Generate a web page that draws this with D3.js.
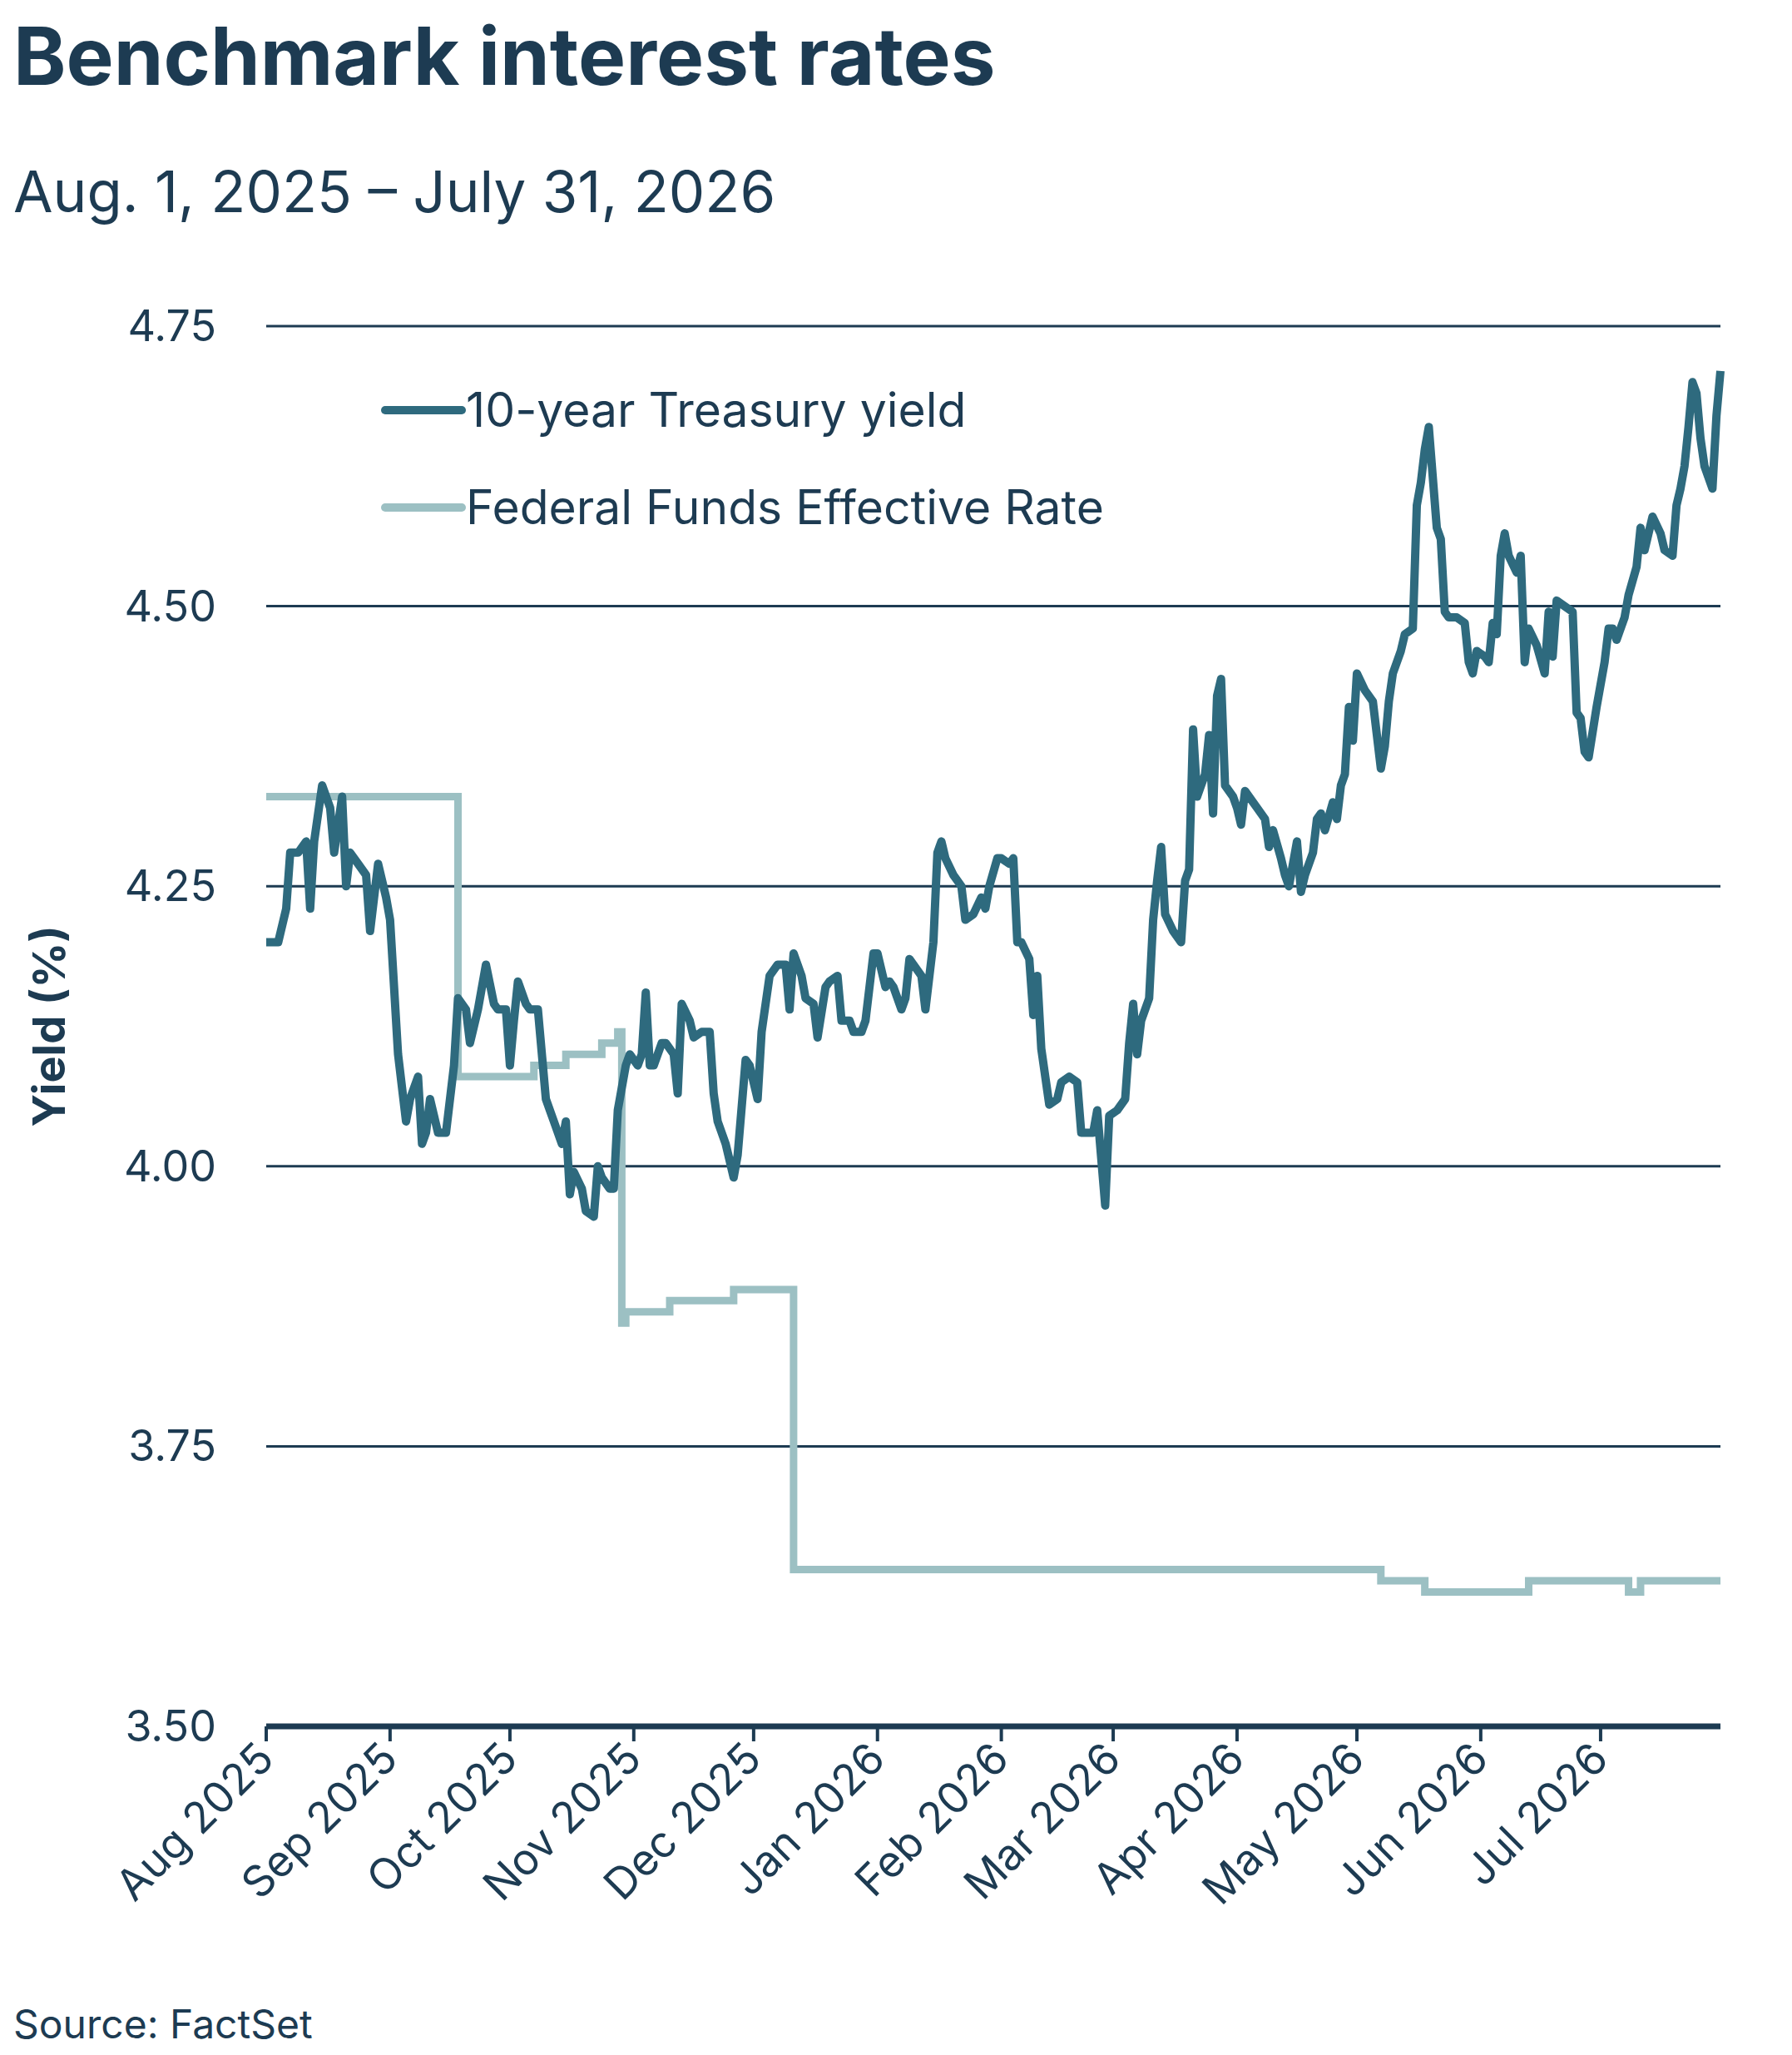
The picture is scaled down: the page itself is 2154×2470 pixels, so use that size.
<!DOCTYPE html>
<html><head><meta charset="utf-8">
<script src="https://cdn.jsdelivr.net/npm/d3@7"></script>
<style>body{margin:0;background:#fff}</style></head>
<body><svg id="c" width="2154" height="2470"></svg>
<script>
const treasuryDates = ["2025-08-01","2025-08-04","2025-08-06","2025-08-07","2025-08-09","2025-08-11","2025-08-12","2025-08-13","2025-08-15","2025-08-17","2025-08-18","2025-08-20","2025-08-21","2025-08-22","2025-08-24","2025-08-26","2025-08-27","2025-08-29","2025-08-31",
"2025-09-01","2025-09-03","2025-09-04","2025-09-05","2025-09-06","2025-09-08","2025-09-09","2025-09-10","2025-09-11","2025-09-13","2025-09-15","2025-09-17","2025-09-18","2025-09-20","2025-09-21","2025-09-23","2025-09-25","2025-09-27","2025-09-28","2025-09-30",
"2025-10-01","2025-10-02","2025-10-03","2025-10-05","2025-10-06","2025-10-07","2025-10-08","2025-10-10","2025-10-11","2025-10-12","2025-10-14","2025-10-15","2025-10-16","2025-10-17","2025-10-19","2025-10-20","2025-10-22","2025-10-23","2025-10-24","2025-10-26","2025-10-27","2025-10-28","2025-10-30","2025-10-31",
"2025-11-02","2025-11-03","2025-11-04","2025-11-05","2025-11-06","2025-11-08","2025-11-09","2025-11-11","2025-11-12","2025-11-13","2025-11-15","2025-11-16","2025-11-18","2025-11-20","2025-11-21","2025-11-22","2025-11-24","2025-11-26","2025-11-27","2025-11-29","2025-11-30",
"2025-12-02","2025-12-03","2025-12-05","2025-12-07","2025-12-09","2025-12-10","2025-12-11","2025-12-13","2025-12-14","2025-12-16","2025-12-17","2025-12-19","2025-12-20","2025-12-22","2025-12-23","2025-12-25","2025-12-26","2025-12-28","2025-12-29","2025-12-31",
"2026-01-01","2026-01-03","2026-01-04","2026-01-05","2026-01-07","2026-01-08","2026-01-09","2026-01-10","2026-01-12","2026-01-13","2026-01-15","2026-01-16","2026-01-17","2026-01-18","2026-01-20","2026-01-22","2026-01-23","2026-01-25","2026-01-27","2026-01-28","2026-01-29","2026-01-31",
"2026-02-01","2026-02-03","2026-02-04","2026-02-05","2026-02-06","2026-02-08","2026-02-09","2026-02-10","2026-02-11","2026-02-13","2026-02-15","2026-02-16","2026-02-18","2026-02-20","2026-02-21","2026-02-22","2026-02-24","2026-02-25","2026-02-27","2026-02-28",
"2026-03-02","2026-03-04","2026-03-05","2026-03-06","2026-03-07","2026-03-08","2026-03-10","2026-03-11","2026-03-12","2026-03-13","2026-03-14","2026-03-16","2026-03-18","2026-03-19","2026-03-20","2026-03-21","2026-03-22","2026-03-24","2026-03-25","2026-03-26","2026-03-27","2026-03-28","2026-03-29","2026-03-31",
"2026-04-01","2026-04-02","2026-04-03","2026-04-04","2026-04-06","2026-04-08","2026-04-09","2026-04-10","2026-04-12","2026-04-13","2026-04-14","2026-04-16","2026-04-17","2026-04-18","2026-04-20","2026-04-21","2026-04-22","2026-04-23","2026-04-25","2026-04-26","2026-04-27","2026-04-28","2026-04-29","2026-04-30",
"2026-05-01","2026-05-03","2026-05-05","2026-05-07","2026-05-08","2026-05-09","2026-05-10","2026-05-12","2026-05-13","2026-05-15","2026-05-16","2026-05-17","2026-05-18","2026-05-19","2026-05-21","2026-05-22","2026-05-23","2026-05-24","2026-05-26","2026-05-28","2026-05-29","2026-05-30","2026-05-31",
"2026-06-02","2026-06-03","2026-06-04","2026-06-05","2026-06-06","2026-06-07","2026-06-08","2026-06-10","2026-06-11","2026-06-12","2026-06-13","2026-06-15","2026-06-17","2026-06-18","2026-06-19","2026-06-20","2026-06-22","2026-06-24","2026-06-25","2026-06-26","2026-06-27","2026-06-28","2026-06-30",
"2026-07-02","2026-07-03","2026-07-04","2026-07-05","2026-07-07","2026-07-08","2026-07-10","2026-07-11","2026-07-12","2026-07-14","2026-07-16","2026-07-17","2026-07-19","2026-07-20","2026-07-21","2026-07-22","2026-07-23","2026-07-24","2026-07-25","2026-07-26","2026-07-27","2026-07-29","2026-07-30","2026-07-31"];
const treasuryYield = [4.20,4.20,4.23,4.28,4.28,4.29,4.23,4.29,4.34,4.32,4.28,4.33,4.25,4.28,4.27,4.26,4.21,4.27,4.24,
4.22,4.10,4.07,4.04,4.06,4.08,4.02,4.03,4.06,4.03,4.03,4.09,4.15,4.14,4.11,4.14,4.18,4.145,4.14,4.14,
4.09,4.13,4.165,4.145,4.14,4.14,4.14,4.06,4.05,4.04,4.02,4.04,3.975,3.995,3.98,3.96,3.955,4.00,3.99,3.98,3.98,4.05,4.09,4.10,
4.09,4.10,4.155,4.09,4.09,4.11,4.11,4.10,4.065,4.145,4.13,4.115,4.12,4.12,4.065,4.04,4.02,3.99,4.01,4.095,4.09,
4.06,4.12,4.17,4.18,4.18,4.14,4.19,4.17,4.15,4.145,4.115,4.16,4.165,4.17,4.13,4.13,4.12,4.12,4.13,4.19,
4.19,4.16,4.165,4.16,4.14,4.15,4.185,4.18,4.17,4.14,4.20,4.28,4.29,4.275,4.26,4.25,4.22,4.225,4.24,4.23,4.25,4.275,
4.275,4.27,4.275,4.20,4.20,4.185,4.135,4.17,4.105,4.055,4.06,4.075,4.08,4.075,4.03,4.03,4.03,4.05,3.965,4.045,
4.05,4.06,4.11,4.145,4.10,4.13,4.15,4.22,4.255,4.285,4.225,4.21,4.20,4.255,4.265,4.39,4.33,4.35,4.385,4.315,4.42,4.435,4.34,4.33,
4.32,4.305,4.335,4.33,4.32,4.31,4.285,4.30,4.275,4.26,4.25,4.29,4.245,4.26,4.28,4.31,4.315,4.30,4.325,4.31,4.34,4.35,4.41,4.38,
4.44,4.425,4.415,4.355,4.375,4.415,4.44,4.46,4.475,4.48,4.59,4.61,4.64,4.66,4.57,4.56,4.495,4.49,4.49,4.485,4.45,4.44,4.46,
4.455,4.45,4.485,4.475,4.545,4.565,4.545,4.53,4.545,4.45,4.48,4.465,4.44,4.495,4.455,4.505,4.50,4.495,4.405,4.40,4.37,4.365,4.41,
4.45,4.48,4.48,4.47,4.49,4.51,4.535,4.57,4.55,4.58,4.565,4.55,4.545,4.59,4.605,4.625,4.66,4.70,4.69,4.65,4.625,4.605,4.67,4.71];

const fedDates = ["2025-08-01","2025-09-17","2025-09-18","2025-10-07","2025-10-15","2025-10-24","2025-10-28","2025-10-29","2025-10-30","2025-11-10","2025-11-26","2025-12-10","2025-12-11","2026-05-07","2026-05-18","2026-06-13","2026-07-08","2026-07-11","2026-07-31"];
const fedRate  = [4.33,4.33,4.08,4.09,4.10,4.11,4.12,3.86,3.87,3.88,3.89,3.89,3.64,3.63,3.62,3.63,3.62,3.63,3.63];

const yTicks = [3.50,3.75,4.00,4.25,4.50,4.75];
const monthTicks = ["2025-08-01","2025-09-01","2025-10-01","2025-11-01","2025-12-01","2026-01-01","2026-02-01","2026-03-01","2026-04-01","2026-05-01","2026-06-01","2026-07-01"];
const seriesNames = ["10-year Treasury yield","Federal Funds Effective Rate"];
const seriesColors = ["#2e6a7e","#9cc0c3"];

const P = d3.timeParse("%Y-%m-%d");
const svg = d3.select("#c");
const ink = "#1d3b52";
const font = "Inter, 'Open Sans', sans-serif";
const L=320,R=2068,T=392,B=2075;
const x = d3.scaleTime().domain([P("2025-08-01"),P("2026-07-31")]).range([L,R]);
const y = d3.scaleLinear().domain([3.5,4.75]).range([B,T]);

svg.append("text").attr("x",16).attr("y",102).attr("font-family",font).attr("font-weight",700).attr("font-size",96).attr("fill",ink).text("Benchmark interest rates");
svg.append("text").attr("x",16).attr("y",255).attr("font-family",font).attr("font-size",69).attr("fill",ink).text("Aug. 1, 2025 – July 31, 2026");

svg.append("g").selectAll("line").data(yTicks.slice(1)).join("line")
  .attr("x1",L).attr("x2",R).attr("y1",d=>y(d)).attr("y2",d=>y(d)).attr("stroke",ink).attr("stroke-width",3);
svg.append("g").selectAll("text").data(yTicks).join("text")
  .attr("x",260).attr("y",d=>y(d)+18).attr("text-anchor","end").attr("font-family",font).attr("font-size",52).attr("fill",ink).text(d=>d.toFixed(2));
svg.append("text").attr("transform",`translate(78,${(T+B)/2}) rotate(-90)`).attr("text-anchor","middle")
  .attr("font-family",font).attr("font-weight",700).attr("font-size",54).attr("fill",ink).text("Yield (%)");

const fed = fedDates.map((d,i)=>[P(d),fedRate[i]]);
const tr = treasuryDates.map((d,i)=>[P(d),treasuryYield[i]]);
svg.append("path").attr("d",d3.line().x(d=>x(d[0])).y(d=>y(d[1])).curve(d3.curveStepAfter)(fed)).attr("fill","none").attr("stroke",seriesColors[1]).attr("stroke-width",9);
svg.append("path").attr("d",d3.line().x(d=>x(d[0])).y(d=>y(d[1]))(tr)).attr("fill","none").attr("stroke",seriesColors[0]).attr("stroke-width",10).attr("stroke-linejoin","round");

svg.append("line").attr("x1",L).attr("x2",R).attr("y1",B).attr("y2",B).attr("stroke",ink).attr("stroke-width",7);
const xt = svg.append("g").selectAll("g").data(monthTicks.map(P)).join("g").attr("transform",d=>`translate(${x(d)},${B})`);
xt.append("line").attr("y1",0).attr("y2",18).attr("stroke",ink).attr("stroke-width",4);
xt.append("text").attr("transform","translate(12,42) rotate(-45)").attr("text-anchor","end").attr("font-family",font).attr("font-size",52).attr("fill",ink).text(d3.timeFormat("%b %Y"));

seriesNames.forEach((n,i)=>{
  const yy = 493 + i*117;
  svg.append("line").attr("x1",463).attr("x2",555).attr("y1",yy).attr("y2",yy).attr("stroke",seriesColors[i]).attr("stroke-width",10).attr("stroke-linecap","round");
  svg.append("text").attr("x",560).attr("y",yy+20).attr("font-family",font).attr("font-size",57).attr("fill",ink).text(n);
});

svg.append("text").attr("x",16).attr("y",2450).attr("font-family",font).attr("font-size",48).attr("fill",ink).text("Source: FactSet");
</script></body></html>
